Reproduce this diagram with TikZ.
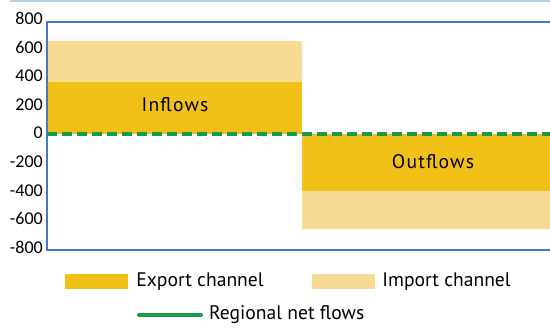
\documentclass[tikz,border=0pt]{standalone}
\usepackage{fontspec}
\setmainfont{PT Sans}
\newfontfamily\tickfont{Carlito}
\newfontfamily\barfont[LetterSpace=6]{PT Sans}
\usetikzlibrary{positioning}
\definecolor{exportcol}{HTML}{F2C118}
\definecolor{importcol}{HTML}{F7DB93}
\definecolor{netcol}{HTML}{169B48}
\definecolor{framecol}{HTML}{4A76C6}
\definecolor{topcol}{HTML}{B9CDEB}
\begin{document}
\begin{tikzpicture}
[   x=1pt,y=-1pt,
    bar/.style={fill=#1,draw=none},
    swatch/.style={fill=#1,minimum width=63pt,minimum height=15pt,inner sep=0pt},
    ticklabel/.style={anchor=east,inner sep=0pt,font=\tickfont\fontsize{18}{18}\selectfont},
    legendtext/.style={anchor=west,inner sep=0pt,font=\fontsize{19.6}{20}\selectfont},
    barlabel/.style={inner sep=0pt,font=\barfont\fontsize{19.6}{20}\selectfont},
]
\useasboundingbox (0,0) rectangle (550,328);
%%%%%%%%%%%%%%%%%%%% BARS %%%%%%%%%%%%%%%%%%%%%%%%%%%%%%%%%%%
    \fill[bar=importcol] (47,41) rectangle (302,82);
    \fill[bar=exportcol] (47,82) rectangle (302,134);
    \fill[bar=exportcol] (302,134) rectangle (550,191);
    \fill[bar=importcol] (302,191) rectangle (550,229);
    \node[barlabel] (inflows) at (175,105) {Inflows};
    \node[barlabel] (outflows) at (433,162) {Outflows};

%%%%%%%%%%%%%%%%%%%% AXES %%%%%%%%%%%%%%%%%%%%%%%%%%%%%%%%%%%
    \draw[topcol,line width=1.5pt] (10,1) -- (550,1);
    \draw[framecol,line width=1.4pt] (550,22) -- (47,22) -- (47,250) -- (550,250);
    \foreach \v in {800,600,...,-800}
    {
        \node[ticklabel] (tick\v) at (43,{133-0.1431*\v}) {\v};
    }

%%%%%%%%%%%%%%%%%%%% NET FLOWS %%%%%%%%%%%%%%%%%%%%%%%%%%%%%%%%%%%
    \coordinate (net0) at (47,134);
    \coordinate (net1) at (550,134);
    \draw[netcol,line width=3.2pt,dash pattern=on 10pt off 5pt] (net0) -- (net1);

%%%%%%%%%%%%%%%%%%%% LEGEND %%%%%%%%%%%%%%%%%%%%%%%%%%%%%%%%%%%
    \node[swatch=exportcol] (expkey) at (96.5,281.5) {};
    \node[legendtext,right=8pt of expkey] (exptext) {Export channel};
    \node[swatch=importcol] (impkey) at (343.5,281.5) {};
    \node[legendtext,right=7pt of impkey] (imptext) {Import channel};
    \coordinate (netkey0) at (139,315);
    \coordinate (netkey1) at (201,315);
    \draw[netcol,line width=4pt,line cap=round] (netkey0) -- (netkey1);
    \node[legendtext,right=8pt of netkey1] (nettext) {Regional net flows};
\end{tikzpicture}
\end{document}
